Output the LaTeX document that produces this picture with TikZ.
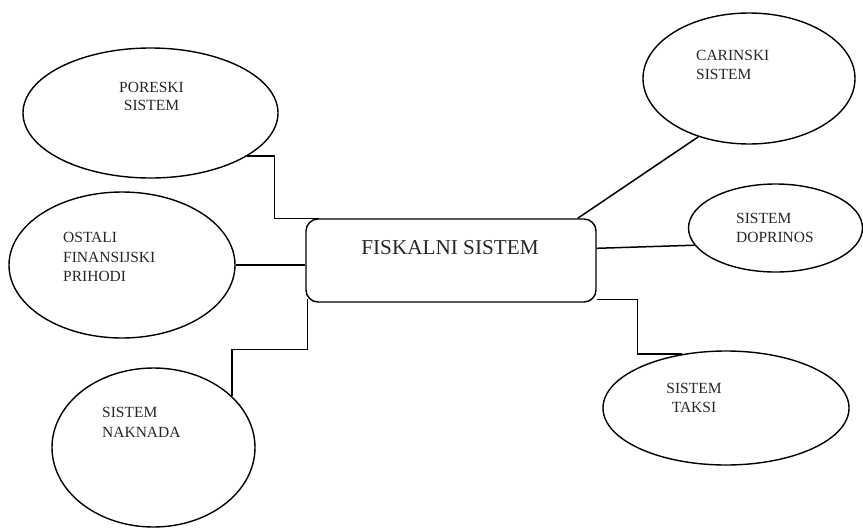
\documentclass[tikz,border=0pt]{standalone}
\usepackage{fontspec}
\setmainfont{Liberation Serif}
\usetikzlibrary{shapes.geometric,calc}
\tikzset{
  oval/.style={draw, ellipse, line width=1.4pt, inner sep=0pt},
  mainbox/.style={draw, rectangle, rounded corners=12pt, line width=1.4pt, inner sep=0pt, minimum width=290pt, minimum height=83pt},
  conn/.style={line width=1.5pt},
  lbl/.style={inner sep=0pt, font=\fontsize{15.5pt}{19pt}\selectfont, text=black!85},
  biglbl/.style={inner sep=0pt, font=\fontsize{21.2pt}{25pt}\selectfont, text=black!85}
}
\begin{document}
\begin{tikzpicture}[x=1pt,y=-1pt]
\useasboundingbox (0,0) rectangle (863,528);
% central box
\node[mainbox] (fisk) at (451,260.5) {};
\node[biglbl, anchor=base] (fiskt) at (450,254) {FISKALNI SISTEM};
% ellipses
\node[oval, minimum width=255pt, minimum height=130pt] (pores) at (150.5,113) {};
\node[oval, minimum width=212pt, minimum height=131pt] (carin) at (749,78.5) {};
\node[oval, minimum width=174pt, minimum height=88pt] (dop) at (775.5,228) {};
\node[oval, minimum width=226pt, minimum height=146pt] (ost) at (122,265) {};
\node[oval, minimum width=203pt, minimum height=159pt] (nak) at (153.5,447.5) {};
\node[oval, minimum width=246pt, minimum height=114pt] (tak) at (726,408) {};
% labels
\node[lbl, anchor=base] (p1) at (151.5,92) {PORESKI};
\node[lbl, anchor=base] (p2) at (151.5,110.3) {SISTEM};
\node[lbl, anchor=base west] (c1) at (696,60) {CARINSKI};
\node[lbl, anchor=base west] (c2) at (696,79) {SISTEM};
\node[lbl, anchor=base west] (d1) at (736,223) {SISTEM};
\node[lbl, anchor=base west] (d2) at (736,242) {DOPRINOS};
\node[lbl, anchor=base west] (o1) at (63,242) {OSTALI};
\node[lbl, anchor=base west] (o2) at (63,262) {FINANSIJSKI};
\node[lbl, anchor=base west] (o3) at (63,281) {PRIHODI};
\node[lbl, anchor=base west] (n1) at (102,417) {SISTEM};
\node[lbl, anchor=base west] (n2) at (102,437) {NAKNADA};
\node[lbl, anchor=base] (t1) at (694,393) {SISTEM};
\node[lbl, anchor=base] (t2) at (694,412) {TAKSI};
% connectors
\draw[conn] (pores.-24.5) -| ($(fisk.north west)+(-31,0)$) -- ($(fisk.north west)+(14,0)$);
\draw[conn] ($(fisk.north east)+(-19,0)$) -- (carin.-131.9);
\draw[conn] ($(fisk.north east)+(0,30)$) -- (dop.192);
\draw[conn] (ost.east) -- (ost.east -| fisk.west);
\draw[conn] ($(fisk.south west)+(2,-4)$) -- ($(fisk.south west)+(2,47)$) -| (nak.33);
\draw[conn] ($(fisk.south east)+(0,-3)$) -| ($(tak.129.7)+(-45,0)$) -- (tak.129.7);
\end{tikzpicture}
\end{document}
